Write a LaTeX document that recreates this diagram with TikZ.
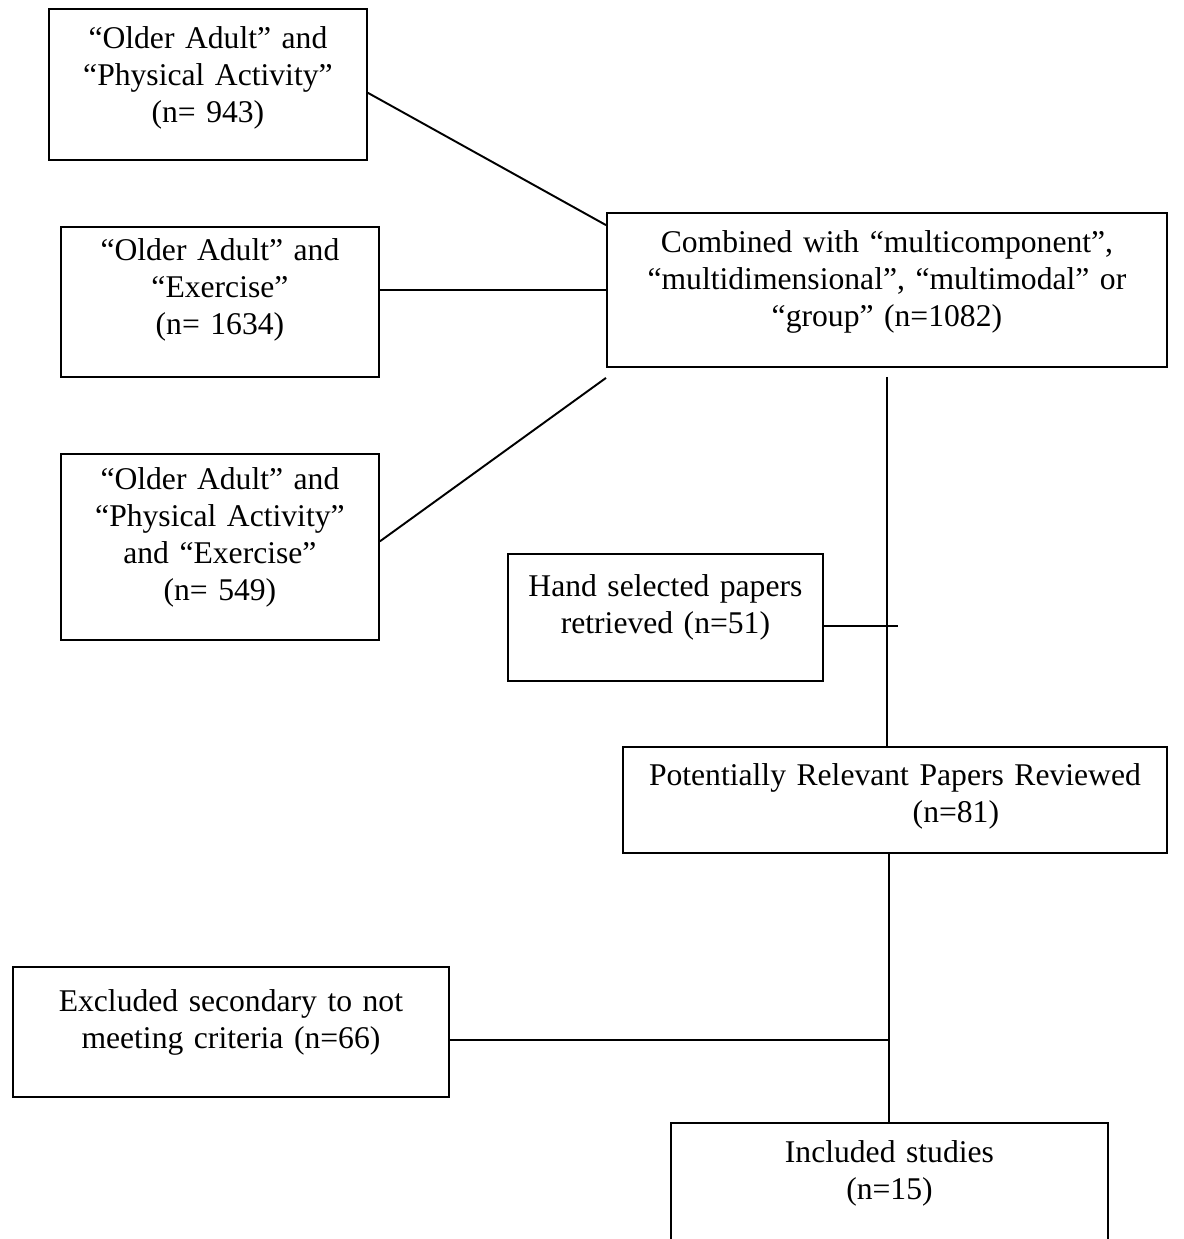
\documentclass[tikz,border=0pt]{standalone}
\usepackage{fontspec}
\setmainfont{Liberation Serif}
\usetikzlibrary{positioning,calc}

\begin{document}
\begin{tikzpicture}[x=0.02cm, y=-0.02cm,
    box/.style={draw, rectangle, line width=1.1pt, inner sep=0pt, anchor=north west, align=center, font=\fontsize{18}{21}\selectfont},
    link/.style={line width=1.1pt},
]
\useasboundingbox (0,0) rectangle (1183,1239);

% Search terms
\node[box, text width=6.36cm, text height=0.80cm, text depth=2.22cm] (pa) at (48,8) {“Older Adult” and\\“Physical Activity”\\(n= 943)};
\node[box, text width=6.36cm, text height=0.68cm, text depth=2.32cm] (ex) at (60,226) {“Older Adult” and\\“Exercise”\\(n= 1634)};
\node[box, text width=6.36cm, text height=0.72cm, text depth=3.00cm] (paex) at (60,453) {“Older Adult” and\\“Physical Activity”\\and “Exercise”\\(n= 549)};

% Combined
\node[box, text width=11.2cm, text height=0.80cm, text depth=2.28cm] (comb) at (606,212) {Combined with “multicomponent”,\\“multidimensional”, “multimodal” or\\“group” (n=1082)};

% Hand selected
\node[box, text width=6.3cm, text height=0.86cm, text depth=1.68cm] (hand) at (507,553) {Hand selected papers\\retrieved (n=51)};

% Reviewed
\node[box, text width=10.88cm, text height=0.78cm, text depth=1.34cm] (rel) at (622,746) {Potentially Relevant Papers Reviewed\\\hspace*{2.44cm}(n=81)};

% Excluded
\node[box, text width=8.72cm, text height=0.90cm, text depth=1.70cm] (excl) at (12,966) {Excluded secondary to not\\meeting criteria (n=66)};

% Included
\node[box, text width=8.74cm, text height=0.80cm, text depth=2.20cm] (incl) at (670,1122) {Included studies\\(n=15)};

% Lines
\draw[link] (pa.-3) -- (comb.167);
\draw[link] (ex.east |- comb.west) -- (comb.west);
\draw[link] (paex.2) -- ([yshift=-0.2cm]comb.south west);
\draw[link] ([yshift=-0.18cm]comb.south) -- (comb.south |- rel.north);
\draw[link] (hand.-3.5) -- (hand.-3.5 -| comb.south) -- ++(11,0);
\draw[link] (incl.north |- rel.south) -- (incl.north);
\draw[link] (excl.-2) -- (excl.-2 -| incl.north);
\end{tikzpicture}
\end{document}
